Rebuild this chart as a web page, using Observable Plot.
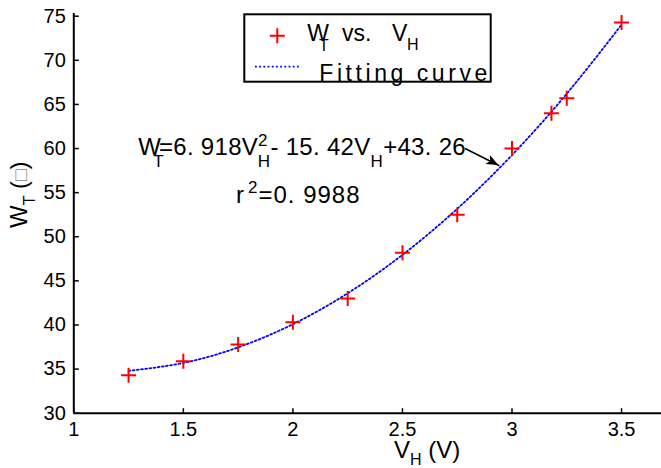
<!DOCTYPE html>
<html><head><meta charset="utf-8">
<script src="https://cdn.jsdelivr.net/npm/d3@7"></script>
<script src="https://cdn.jsdelivr.net/npm/@observablehq/plot@0.6"></script>
<style>
html,body{margin:0;padding:0;background:#fff;}
#chart svg{display:block;}
</style></head><body><div id="chart"></div>
<script>
// measured points (W_T vs V_H)
const vH = [1.25, 1.5, 1.75, 2.0, 2.25, 2.5, 2.75, 3.0, 3.18, 3.25, 3.5];
const wT = [34.3, 35.9, 37.8, 40.3, 43.0, 48.2, 52.5, 60.0, 64.0, 65.7, 74.3];
// fitting curve
const fitV = [1.25, 1.5, 1.75, 2.0, 2.25, 2.5, 2.75, 3.0, 3.25, 3.5];
const fitW = [34.8, 35.7, 37.46, 40.09, 43.59, 47.95, 53.17, 59.26, 66.22, 74.04];
// axis ticks
const xTicks = [1, 1.5, 2, 2.5, 3, 3.5];
const xTickLabels = ["1", "1.5", "2", "2.5", "3", "3.5"];
const yTicks = [30, 35, 40, 45, 50, 55, 60, 65, 70, 75];
const yTickLabels = ["30", "35", "40", "45", "50", "55", "60", "65", "70", "75"];
// annotation arrow (data units)
const arrowX = [2.788, 2.940];
const arrowY = [59.98, 58.08];

const points = vH.map((v, i) => ({v, w: wT[i]}));
const fit = fitV.map((v, i) => ({v, w: fitW[i]}));
const arrows = [{x1: arrowX[0], y1: arrowY[0], x2: arrowX[1], y2: arrowY[1]}];

const plusSym = {draw(ctx, size) { const r = Math.sqrt(size / Math.PI); ctx.moveTo(-r, 0); ctx.lineTo(r, 0); ctx.moveTo(0, -r); ctx.lineTo(0, r); }};
const tickRight = {draw(ctx, size) { const r = Math.sqrt(size / Math.PI); ctx.moveTo(0, 0); ctx.lineTo(r, 0); }};
const tickUp = {draw(ctx, size) { const r = Math.sqrt(size / Math.PI); ctx.moveTo(0, 0); ctx.lineTo(0, -r); }};

const FONT = "'Liberation Sans', Arial, Helvetica, sans-serif";
const x0 = 73.3, pxPerUnit = 219.1;

const plot = Plot.plot({
  width: 661, height: 468,
  marginLeft: 73.3, marginRight: 0, marginTop: 13, marginBottom: 55.3,
  x: {domain: [1, 3.7], range: [x0, x0 + 2.7 * pxPerUnit]},
  y: {domain: [30, 75], range: [412.7, 15.7]},
  style: {fontFamily: FONT, fontSize: "20px", color: "#000", background: "#fff", overflow: "hidden"},
  marks: [
    Plot.axisX(xTicks, {tickSize: 0, tickPadding: 9, label: null, tickFormat: (d, i) => xTickLabels[i], fontSize: 20}),
    Plot.axisY(yTicks, {tickSize: 0, tickPadding: 8, label: null, tickFormat: (d, i) => yTickLabels[i], fontSize: 20}),
    Plot.dot(xTicks, {x: d => d, y: 30, symbol: tickUp, r: 5, stroke: "black", strokeWidth: 1.5, fill: "none"}),
    Plot.dot(yTicks, {x: 1, y: d => d, symbol: tickRight, r: 5, stroke: "black", strokeWidth: 1.5, fill: "none"}),
    Plot.ruleX([1], {stroke: "black", strokeWidth: 2}),
    Plot.ruleY([30], {stroke: "black", strokeWidth: 2}),
    Plot.line(fit, {x: "v", y: "w", curve: "natural", stroke: "#0000ff", strokeWidth: 1.8, strokeDasharray: "1.8,2.4"}),
    Plot.dot(points, {x: "v", y: "w", symbol: plusSym, r: 7.5, stroke: "#ff0000", strokeWidth: 2, fill: "none"}),
    Plot.arrow(arrows, {x1: "x1", y1: "y1", x2: "x2", y2: "y2", stroke: "black", strokeWidth: 1.5, headLength: 0})
  ]
});
document.getElementById("chart").appendChild(plot);

const svg = d3.select(plot);
const g = svg.append("g").attr("font-family", FONT).attr("fill", "black").attr("text-anchor", "start");

// filled arrow head (MATLAB style), placed through the plot's scales
{
  const sx = plot.scale("x"), sy = plot.scale("y");
  const ax = sx.apply(arrowX[0]), ay = sy.apply(arrowY[0]);
  const bx = sx.apply(arrowX[1]), by = sy.apply(arrowY[1]);
  const L = Math.hypot(bx - ax, by - ay), ux = (bx - ax) / L, uy = (by - ay) / L;
  const hl = 12, hw = 5, notch = 3;
  const px = -uy, py = ux;
  const p1 = [bx - ux * hl + px * hw, by - uy * hl + py * hw];
  const p2 = [bx - ux * hl - px * hw, by - uy * hl - py * hw];
  const pn = [bx - ux * (hl - notch), by - uy * (hl - notch)];
  g.append("path").attr("d", `M${bx},${by}L${p1}L${pn}L${p2}Z`).attr("fill", "black");
}

function addText(parent, attrs, parts) {
  const t = parent.append("text");
  for (const k in attrs) t.attr(k, attrs[k]);
  for (const p of parts) {
    const s = t.append("tspan").text(p.t);
    for (const k of ["x", "dx", "dy"]) if (p[k] != null) s.attr(k, p[k]);
    if (p.fs != null) s.attr("font-size", p.fs);
    if (p.fill != null) s.attr("fill", p.fill);
  }
  return t;
}

// Legend
const lg = g.append("g");
lg.append("rect").attr("x", 244.3).attr("y", 14.3).attr("width", 246.4).attr("height", 67.4)
  .attr("fill", "white").attr("stroke", "black").attr("stroke-width", 2);
lg.append("path").attr("d", "M269.8,35.7H284.8M277.3,28.2V43.2").attr("stroke", "#ff0000").attr("stroke-width", 2);
lg.append("line").attr("x1", 255).attr("x2", 300.7).attr("y1", 66.7).attr("y2", 66.7)
  .attr("stroke", "#0000ff").attr("stroke-width", 1.8).attr("stroke-dasharray", "1.8,2.4");
addText(lg, {x: 307.3, y: 41, "font-size": 23}, [
  {t: "W"}, {t: "T", x: 319, dy: 10, fs: 16}, {t: "vs.", x: 342, dy: -10}, {t: "V", x: 392}, {t: "H", x: 407, dy: 9, fs: 16}
]);
addText(lg, {x: 319.3, y: 80.5, "font-size": 23, textLength: 168, lengthAdjust: "spacing"}, [{t: "Fitting curve"}]);

// Equation annotation
addText(g, {x: 138.3, y: 155, "font-size": 24, "letter-spacing": 0.3}, [
  {t: "W"}, {t: "T", dx: -8, dy: 12, fs: 17}, {t: "=6. 918V", dx: -5, dy: -12},
  {t: "2", dy: -9, fs: 17}, {t: "H", dx: -10, dy: 21, fs: 17},
  {t: "- 15. 42V", dy: -12}, {t: "H", dy: 12, fs: 17}, {t: "+43. 26", dy: -12}
]);
addText(g, {x: 236, y: 203.3, "font-size": 24, "letter-spacing": 1}, [
  {t: "r"}, {t: "2", dx: 3, dy: -10, fs: 17}, {t: "=0. 9988", dy: 10}
]);

// Axis labels
addText(g, {x: 394, y: 458, "font-size": 24}, [
  {t: "V"}, {t: "H", dy: 7, fs: 16}, {t: " (V)", dy: -7}
]);
addText(g, {transform: "translate(27,228) rotate(-90)", "font-size": 24}, [
  {t: "W"}, {t: "T", dy: 8, fs: 16}, {t: " (", dy: -8}, {t: "□", fs: 19, fill: "#888"}, {t: ")"}
]);
</script>
</body></html>
